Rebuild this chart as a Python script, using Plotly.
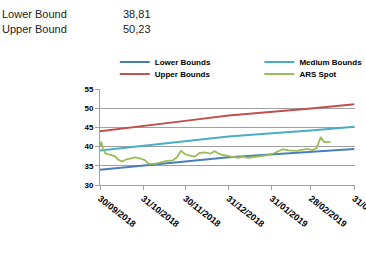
import plotly.graph_objects as go

# ---- data ----
bound_dates = ["2018-09-30", "2018-10-31", "2018-11-30", "2018-12-31",
               "2019-01-31", "2019-02-28", "2019-03-31"]
lower_bounds = [34.0, 35.0, 36.1, 37.2, 37.9, 38.6, 39.4]
medium_bounds = [39.0, 40.2, 41.4, 42.6, 43.5, 44.2, 45.2]
upper_bounds = [44.0, 45.3, 46.7, 48.1, 49.0, 49.9, 51.0]

spot_dates = ["2018-09-30", "2018-10-01", "2018-10-02", "2018-10-04", "2018-10-08",
              "2018-10-11", "2018-10-13", "2018-10-16", "2018-10-19", "2018-10-22",
              "2018-10-25", "2018-10-29", "2018-11-01", "2018-11-04", "2018-11-08",
              "2018-11-12", "2018-11-16", "2018-11-21", "2018-11-24", "2018-11-27",
              "2018-11-30", "2018-12-04", "2018-12-07", "2018-12-10", "2018-12-14",
              "2018-12-18", "2018-12-21", "2018-12-25", "2018-12-28", "2019-01-02",
              "2019-01-07", "2019-01-10", "2019-01-14", "2019-01-18", "2019-01-23",
              "2019-01-28", "2019-02-01", "2019-02-08", "2019-02-12", "2019-02-18",
              "2019-02-25", "2019-03-01", "2019-03-04", "2019-03-07", "2019-03-09",
              "2019-03-11", "2019-03-14"]
ars_spot = [40.2, 41.3, 39.5, 38.2, 37.8, 37.4, 36.6, 36.1, 36.7, 37.0,
            37.2, 36.9, 36.5, 35.5, 35.5, 35.8, 36.2, 36.4, 37.2, 38.9,
            38.0, 37.6, 37.4, 38.3, 38.5, 38.2, 38.8, 38.0, 37.7, 37.4,
            37.1, 37.4, 37.1, 37.2, 37.5, 37.8, 38.2, 39.3, 39.0, 38.9,
            39.4, 39.1, 39.6, 42.5, 41.3, 41.1, 41.3]

tick_dates = ["2018-09-30", "2018-10-31", "2018-11-30", "2018-12-31",
              "2019-01-31", "2019-02-28", "2019-03-31"]
tick_labels = ["30/09/2018", "31/10/2018", "30/11/2018", "31/12/2018",
               "31/01/2019", "28/02/2019", "31/03/2019"]
y_ticks = [30, 35, 40, 45, 50, 55]

header_labels = ["Lower Bound", "Upper Bound"]
header_values = ["38,81", "50,23"]

# ---- styling ----
FONT = "Liberation Sans"
GRID = "#a0a0a0"

fig = go.Figure()
fig.add_trace(go.Scatter(x=bound_dates, y=lower_bounds, mode="lines",
                         name="<b>Lower Bounds</b>", line=dict(color="#4a7ebb", width=2),
                         legend="legend"))
fig.add_trace(go.Scatter(x=bound_dates, y=upper_bounds, mode="lines",
                         name="<b>Upper Bounds</b>", line=dict(color="#c0504d", width=2),
                         legend="legend2"))
fig.add_trace(go.Scatter(x=bound_dates, y=medium_bounds, mode="lines",
                         name="<b>Medium Bounds</b>", line=dict(color="#4bacc6", width=2),
                         legend="legend3"))
fig.add_trace(go.Scatter(x=spot_dates, y=ars_spot, mode="lines",
                         name="<b>ARS Spot</b>", line=dict(color="#9bbb59", width=1.8),
                         legend="legend4"))

leg_common = dict(font=dict(family=FONT, size=8, color="#000000"),
                  bgcolor="rgba(0,0,0,0)", borderwidth=0,
                  xanchor="left", yanchor="middle", orientation="v")

fig.update_layout(
    width=366, height=280,
    margin=dict(l=100, r=11, t=89, b=95, autoexpand=False),
    paper_bgcolor="white", plot_bgcolor="white",
    font=dict(family=FONT, size=8, color="#000000"),
    showlegend=True,
    legend=dict(x=0.058, y=1.281, **leg_common),
    legend2=dict(x=0.058, y=1.156, **leg_common),
    legend3=dict(x=0.625, y=1.281, **leg_common),
    legend4=dict(x=0.625, y=1.156, **leg_common),
    xaxis=dict(type="date", range=["2018-09-30", "2019-03-31 12:00"],
               tickmode="array", tickvals=tick_dates,
               ticktext=["<b>%s</b>" % t for t in tick_labels],
               tickangle=38, showgrid=False, ticks="outside", ticklen=4,
               tickcolor=GRID, showline=True, linecolor=GRID, linewidth=1,
               automargin=False, ticklabeloverflow="allow",
               tickfont=dict(family=FONT, size=9, color="#000000"), zeroline=False),
    yaxis=dict(range=[30, 55], tickmode="array", tickvals=y_ticks,
               ticktext=["<b>%d</b>" % v for v in y_ticks],
               showgrid=True, gridcolor=GRID, gridwidth=1,
               ticks="outside", ticklen=4, tickcolor=GRID,
               showline=True, linecolor=GRID, linewidth=1,
               automargin=False,
               tickfont=dict(family=FONT, size=8, color="#000000"), zeroline=False),
)

for i, (lab, val) in enumerate(zip(header_labels, header_values)):
    yc = 14 + 15 * i
    yp = 1 + (89 - yc) / 96
    fig.add_annotation(text=lab, xref="paper", yref="paper", x=-100 / 255, y=yp,
                       xanchor="left", yanchor="middle", showarrow=False,
                       font=dict(family=FONT, size=11, color="#222222"))
    fig.add_annotation(text=val, xref="paper", yref="paper", x=(121 - 100) / 255, y=yp,
                       xanchor="left", yanchor="middle", showarrow=False,
                       font=dict(family=FONT, size=11, color="#222222"))

fig.write_html("out.html", config={"displayModeBar": False},
               post_script="document.body.style.margin='0';document.body.style.padding='0';")
